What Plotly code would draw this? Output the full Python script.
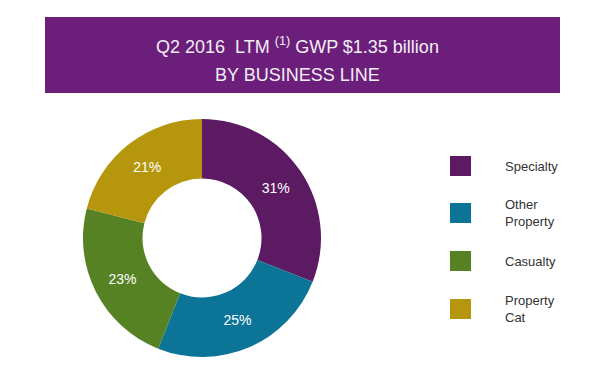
import plotly.graph_objects as go

labels = ["Specialty", "Other<br>Property", "Casualty", "Property<br>Cat"]
values = [31, 25, 23, 21]
colors = ["#5c1a63", "#0b7497", "#568224", "#b5960c"]
title_lines = ["Q2 2016  LTM <sup>(1)</sup> GWP $1.35 billion", "BY BUSINESS LINE"]

W, H = 613, 374
OFF = 8  # page body margin


def px(x):
    return (x - OFF) / W


def py(y):
    return (H - (y - OFF)) / H


FONT = "Liberation Sans, Arial"

fig = go.Figure()
fig.add_trace(go.Pie(
    labels=labels, values=values,
    marker=dict(colors=colors, line=dict(width=0)),
    hole=0.5, sort=False, direction="clockwise", rotation=0,
    textinfo="percent", textposition="inside",
    insidetextfont=dict(color="white", size=14, family=FONT),
    insidetextorientation="horizontal",
    domain=dict(x=[px(83), px(321)], y=[py(357), py(119)]),
    showlegend=False,
))

shapes = [dict(type="rect", xref="paper", yref="paper",
               x0=px(45), x1=px(560), y0=py(93), y1=py(17),
               fillcolor="#6b1f7b", line=dict(width=0), layer="below")]
annotations = []
for txt, yc in zip(title_lines, [46, 75]):
    annotations.append(dict(xref="paper", yref="paper", x=px(297), y=py(yc),
                            text=txt, showarrow=False, xanchor="center", yanchor="middle",
                            font=dict(color="#f4eef5", size=18, family=FONT)))

legend_tops = [156, 203, 251, 299]
for lab, col, top in zip(labels, colors, legend_tops):
    shapes.append(dict(type="rect", xref="paper", yref="paper",
                       x0=px(450), x1=px(471), y0=py(top + 20), y1=py(top),
                       fillcolor=col, line=dict(width=0)))
    annotations.append(dict(xref="paper", yref="paper", x=px(503), y=py(top + 10),
                            text=lab, showarrow=False, xanchor="left", yanchor="middle",
                            align="left",
                            font=dict(color="#333333", size=13, family=FONT)))

fig.update_layout(
    width=W, height=H, margin=dict(l=0, r=0, t=0, b=0),
    paper_bgcolor="white", plot_bgcolor="white",
    shapes=shapes, annotations=annotations,
)
fig.write_html("out.html")
